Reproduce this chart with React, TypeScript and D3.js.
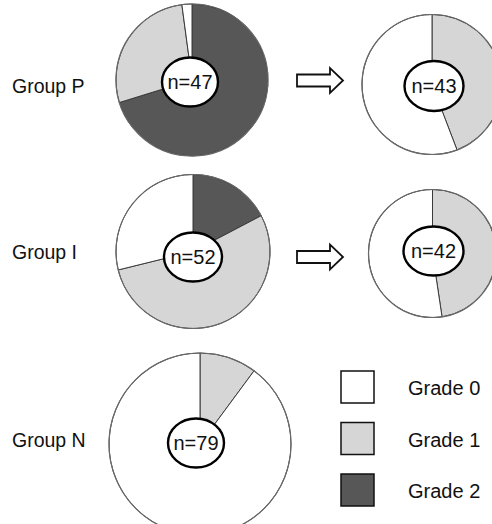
import React from "react";
import * as d3 from "d3";

// ---- data ----
const gradeLabels = ["Grade 0", "Grade 1", "Grade 2"];
const groupLabels = ["Group P", "Group I", "Group N"];
// counts per grade [Grade 0, Grade 1, Grade 2]
const groupPBefore = [1, 13, 33];
const groupPAfter = [24, 19, 0];
const groupIBefore = [15, 28, 9];
const groupIAfter = [22, 20, 0];
const groupNCounts = [71, 8, 0];

const gradeColors = ["#ffffff", "#d6d6d6", "#575757"];

// ---- layout ----
const W = 492;
const H = 524;
const FONT = "'Liberation Sans', Arial, sans-serif";

const donuts = [
  { counts: groupPBefore, cx: 192, cy: 80, r: 76, hx: 190, hy: 82, hrx: 28, hry: 24.5 },
  { counts: groupPAfter, cx: 432, cy: 84.5, r: 70, hx: 434, hy: 86, hrx: 29.5, hry: 25 },
  { counts: groupIBefore, cx: 193, cy: 251.5, r: 77, hx: 193, hy: 257, hrx: 29, hry: 24.5 },
  { counts: groupIAfter, cx: 432.5, cy: 253.5, r: 64, hx: 433.5, hy: 251, hrx: 30, hry: 24.5 },
  { counts: groupNCounts, cx: 200, cy: 444, r: 91, hx: 196, hy: 443, hrx: 28, hry: 24.5 },
];

const labelPos = [
  { x: 12, y: 93 },
  { x: 12, y: 259 },
  { x: 12, y: 447 },
];

const arrowsY = [80.5, 257];

function Donut({ d }: { d: typeof donuts[number] }) {
  const n = d3.sum(d.counts);
  // draw order clockwise from 12 o'clock: Grade 2, Grade 1, Grade 0
  const items = d.counts.map((v, i) => ({ v, i })).reverse();
  const pie = d3
    .pie<{ v: number; i: number }>()
    .sort(null)
    .value((e) => e.v);
  const arcs = pie(items);
  const arc = d3
    .arc<d3.PieArcDatum<{ v: number; i: number }>>()
    .innerRadius(0)
    .outerRadius(d.r);
  return (
    <g>
      <g transform={`translate(${d.cx},${d.cy})`}>
        {arcs
          .filter((a) => a.data.v > 0)
          .map((a) => (
            <path
              key={a.data.i}
              d={arc(a) || ""}
              fill={gradeColors[a.data.i]}
              stroke="#3a3a3a"
              strokeWidth={1}
            />
          ))}
        <circle r={d.r} fill="none" stroke="#6a6a6a" strokeWidth={1.2} />
      </g>
      <ellipse
        cx={d.hx}
        cy={d.hy}
        rx={d.hrx}
        ry={d.hry}
        fill="#ffffff"
        stroke="#000"
        strokeWidth={2.4}
      />
      <text
        x={d.hx}
        y={d.hy}
        dy="0.36em"
        textAnchor="middle"
        fontFamily={FONT}
        fontSize={20}
        fill="#111"
      >
        {`n=${n}`}
      </text>
    </g>
  );
}

function Arrow({ y }: { y: number }) {
  const x0 = 297;
  const xh = 330;
  const x1 = 343;
  const sh = 6;
  const hh = 12.5;
  const p = d3.path();
  p.moveTo(x0, y - sh);
  p.lineTo(xh, y - sh);
  p.lineTo(xh, y - hh);
  p.lineTo(x1, y);
  p.lineTo(xh, y + hh);
  p.lineTo(xh, y + sh);
  p.lineTo(x0, y + sh);
  p.closePath();
  return <path d={p.toString()} fill="#fff" stroke="#111" strokeWidth={1.8} strokeLinejoin="miter" />;
}

export default function App() {
  const legendY = [371, 422.5, 474];
  return (
    <svg
      width={W}
      height={H}
      viewBox={`0 0 ${W} ${H}`}
      style={{ position: "absolute", left: 0, top: 0, background: "#fff" }}
    >
      <rect x={0} y={0} width={W} height={H} fill="#fff" />
      {donuts.map((d, i) => (
        <Donut key={i} d={d} />
      ))}
      {arrowsY.map((y, i) => (
        <Arrow key={i} y={y} />
      ))}
      {groupLabels.map((g, i) => (
        <text
          key={g}
          x={labelPos[i].x}
          y={labelPos[i].y}
          fontFamily={FONT}
          fontSize={19.5}
          fill="#111"
        >
          {g}
        </text>
      ))}
      {gradeLabels.map((g, i) => (
        <g key={g}>
          <rect
            x={341}
            y={legendY[i]}
            width={33}
            height={32}
            fill={gradeColors[i]}
            stroke="#111"
            strokeWidth={1.5}
          />
          <text
            x={408}
            y={legendY[i] + 24}
            fontFamily={FONT}
            fontSize={20}
            fill="#111"
          >
            {g}
          </text>
        </g>
      ))}
    </svg>
  );
}
